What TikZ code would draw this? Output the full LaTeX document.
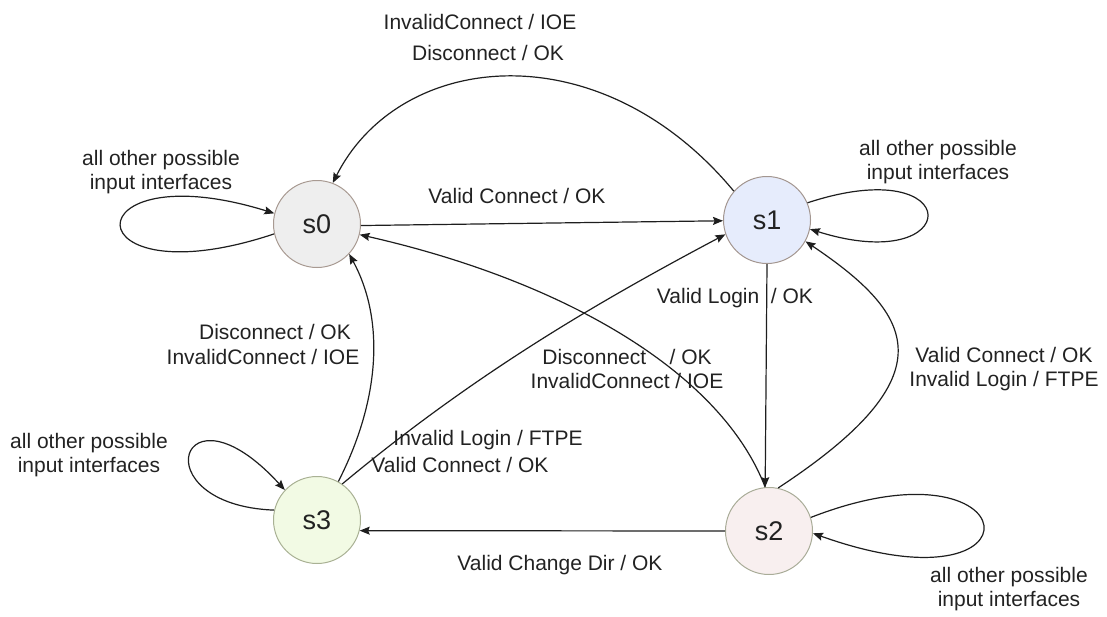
\documentclass[tikz,border=0pt]{standalone}
\usepackage{fontspec}
\setmainfont{Liberation Sans}
\usetikzlibrary{arrows.meta}

\definecolor{inkc}{HTML}{1E1E1E}
\definecolor{txtc}{HTML}{222222}
\definecolor{fillA}{HTML}{EEEEEE}
\definecolor{lineA}{HTML}{A89A92}
\definecolor{fillB}{HTML}{E6ECFC}
\definecolor{lineB}{HTML}{A39690}
\definecolor{fillC}{HTML}{F8EFEF}
\definecolor{lineC}{HTML}{A9AC98}
\definecolor{fillD}{HTML}{F2FAE4}
\definecolor{lineD}{HTML}{A9B194}

\tikzset{
  state/.style={circle, minimum size=87pt, inner sep=0pt, line width=1pt,
    font=\fontsize{27}{30}\selectfont, text=txtc},
  trans/.style={draw=inkc, line width=1.2pt,
    -{Stealth[length=10pt, width=8pt, inset=1.5pt]}},
  lbl/.style={font=\fontsize{21}{24}\selectfont, text=txtc, inner sep=0pt,
    align=center},
}

\begin{document}
\begin{tikzpicture}[x=1pt, y=-1pt]
\useasboundingbox (0,0) rectangle (1107,616);

% states
\node[state, draw=lineA, fill=fillA] (s0) at (317,224) {s0};
\node[state, draw=lineB, fill=fillB] (s1) at (767,220) {s1};
\node[state, draw=lineC, fill=fillC] (s2) at (769,531) {s2};
\node[state, draw=lineD, fill=fillD] (s3) at (317,520) {s3};

% transitions between states
\draw[trans] (s0.358) -- (s1.181);
\draw[trans] (s1.139) .. controls (600,30) and (400,50) .. (s0.69);
\draw[trans] (s2.95) .. controls (720,370) and (560,280) .. (s0.346);
\draw[trans] (s1.270) -- (s2.95);
\draw[trans] (s2.78) .. controls (950,375) and (915,315) .. (s1.331);
\draw[trans] (s3.61) .. controls (380,400) and (385,320) .. (s0.317);
\draw[trans] (s3.55) .. controls (473,375) and (594,304) .. (s1.199);
\draw[trans] (s2.180) -- (s3.346);

% self loops
\draw[trans] (s0.193) .. controls (70,302) and (70,150) .. (s0.166);
\draw[trans] (s1.23) .. controls (968,150) and (965,278) .. (s1.348);
\draw[trans] (s3.167) .. controls (140,505) and (180,375) .. (s3.137);
\draw[trans] (s2.18) .. controls (1030,432) and (1050,618) .. (s2.357);

% labels
\node[lbl] (l01) at (517,196) {Valid Connect / OK};
\node[lbl] (l10a) at (480,22) {InvalidConnect / IOE};
\node[lbl] (l10b) at (488,53) {Disconnect / OK};
\node[lbl] (l12) at (735,298) {Valid Login\ \ / OK};
\node[lbl] (l20) at (627,369) {Disconnect\ \ \ \ / OK\\InvalidConnect / IOE};
\node[lbl] (l21) at (1004,369) {Valid Connect / OK\\Invalid Login / FTPE};
\node[lbl] (l30a) at (275,332) {Disconnect / OK};
\node[lbl] (l30b) at (263,357) {InvalidConnect / IOE};
\node[lbl] (l31a) at (488,440) {Invalid Login / FTPE};
\node[lbl] (l31b) at (460,465) {Valid Connect / OK};
\node[lbl] (l23) at (560,565) {Valid Change Dir / OK};
\node[lbl] (lp0) at (161,172) {all other possible\\input interfaces};
\node[lbl] (lp1) at (938,162) {all other possible\\input interfaces};
\node[lbl] (lp3) at (89,455) {all other possible\\input interfaces};
\node[lbl] (lp2) at (1009,589) {all other possible\\input interfaces};
\end{tikzpicture}
\end{document}
